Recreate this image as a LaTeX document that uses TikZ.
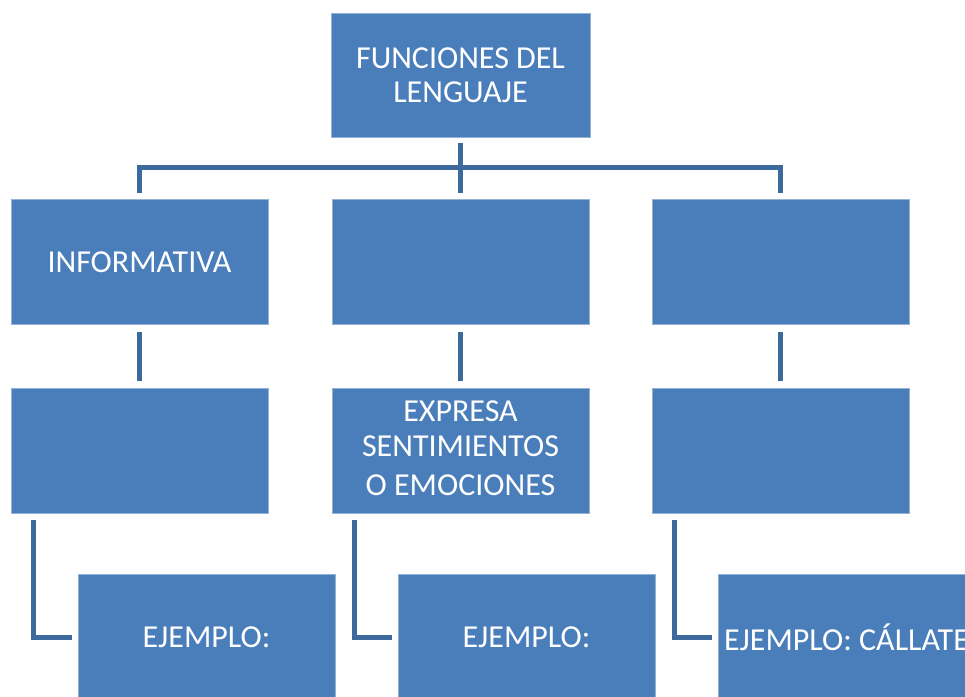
\documentclass[tikz,border=0pt]{standalone}
\usepackage{fontspec}
\setmainfont{Carlito}
\definecolor{boxblue}{HTML}{4A7EBB}
\definecolor{lineblue}{HTML}{3C6A9C}
\begin{document}
\begin{tikzpicture}[x=1pt,y=-1pt,
  fbox/.style={rectangle,fill=boxblue,draw=boxblue!60!white,line width=0.6pt,inner sep=0pt,
    minimum width=257pt,minimum height=125pt,text=white,align=center,
    font=\fontsize{32}{34}\selectfont},
  conn/.style={draw=lineblue,line width=5pt}]
\useasboundingbox (0,0) rectangle (965,696);
\clip (0,0) rectangle (965,696);
\fill[white] (0,0) rectangle (965,696);
% top
\node[fbox,minimum width=259pt,minimum height=124pt] (top) at (460.5,75) {FUNCIONES DEL\\LENGUAJE};
% row 2
\node[fbox] (l2) at (139.5,262) {INFORMATIVA};
\node[fbox] (m2) at (460.5,262) {};
\node[fbox] (r2) at (780.5,262) {};
% row 3
\node[fbox] (l3) at (139.5,450.5) {};
\node[fbox] (m3) at (460.5,450.5) {};
\node[text=white,align=center,font=\fontsize{32}{35}\selectfont] (m3t) at (460.5,448) {EXPRESA\\SENTIMIENTOS\\[4pt]O EMOCIONES};
\node[fbox] (r3) at (780.5,450.5) {};
% row 4
\node[fbox] (l4) at (206.5,637) {EJEMPLO:};
\node[fbox] (m4) at (526.5,637) {EJEMPLO:};
\node[fbox] (r4) at (846.5,637) {EJEMPLO: CÁLLATE};
% connectors
\coordinate (bar) at (460.5,167);
\draw[conn] ([yshift=-6pt]top.south) -- ([yshift=6pt]m2.north);
\draw[conn] ([yshift=6pt]l2.north) -- (l2.north |- bar) -- (r2.north |- bar) -- ([yshift=6pt]r2.north);
\draw[conn] ([yshift=-7pt]l2.south) -- ([yshift=7pt]l3.north);
\draw[conn] ([yshift=-7pt]m2.south) -- ([yshift=7pt]m3.north);
\draw[conn] ([yshift=-7pt]r2.south) -- ([yshift=7pt]r3.north);
\draw[conn] ([xshift=23pt,yshift=-7pt]l3.south west) |- ([xshift=-6pt]l4.west);
\draw[conn] ([xshift=23pt,yshift=-7pt]m3.south west) |- ([xshift=-6pt]m4.west);
\draw[conn] ([xshift=23pt,yshift=-7pt]r3.south west) |- ([xshift=-6pt]r4.west);
\end{tikzpicture}
\end{document}
